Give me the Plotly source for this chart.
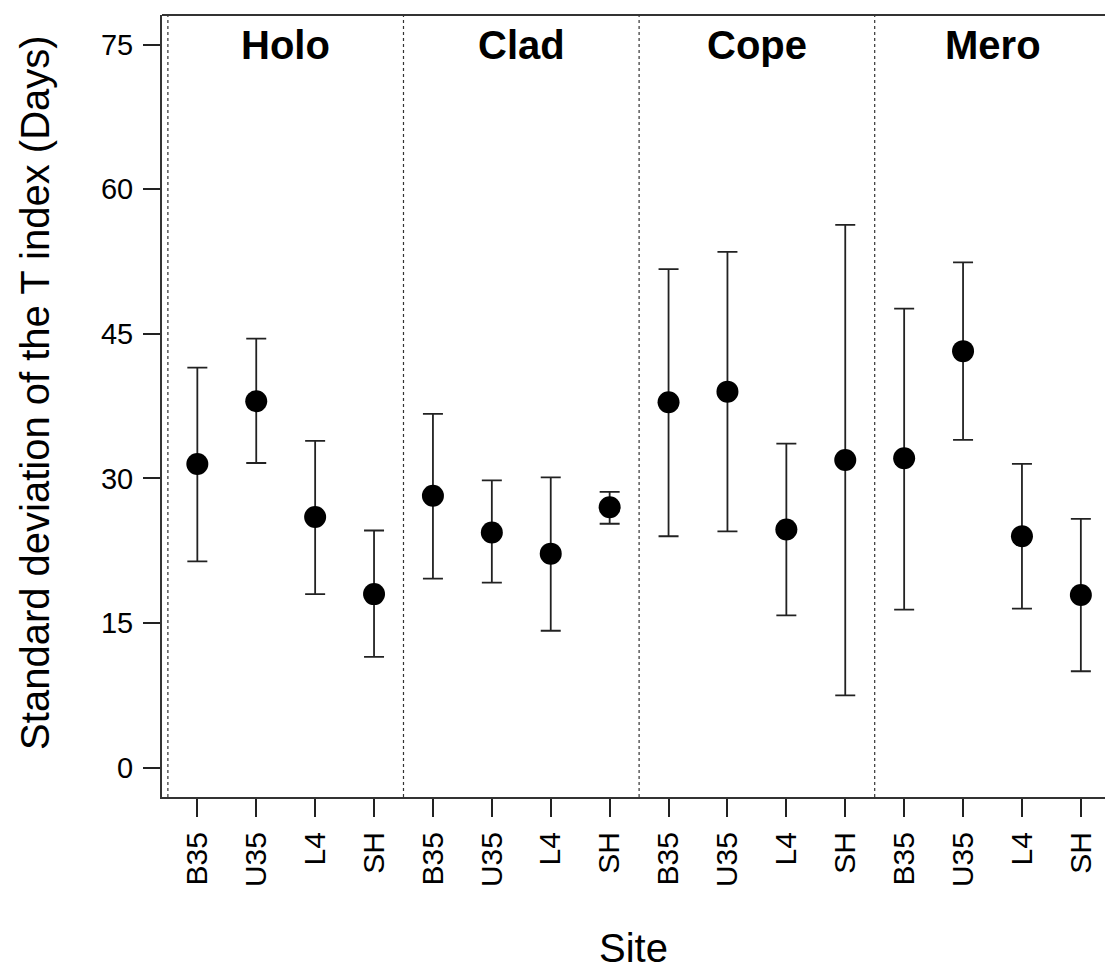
import plotly.graph_objects as go

groups = ["Holo", "Clad", "Cope", "Mero"]
sites = ["B35", "U35", "L4", "SH"]

mean_holo = [31.5, 38.0, 26.0, 18.0]
mean_clad = [28.2, 24.4, 22.2, 27.0]
mean_cope = [37.9, 39.0, 24.7, 31.9]
mean_mero = [32.1, 43.2, 24.0, 17.9]

upper_holo = [41.5, 44.5, 33.9, 24.6]
upper_clad = [36.7, 29.8, 30.1, 28.6]
upper_cope = [51.7, 53.5, 33.6, 56.3]
upper_mero = [47.6, 52.4, 31.5, 25.8]

lower_holo = [21.4, 31.6, 18.0, 11.5]
lower_clad = [19.6, 19.2, 14.2, 25.3]
lower_cope = [24.0, 24.5, 15.8, 7.5]
lower_mero = [16.4, 34.0, 16.5, 10.0]

y_ticks = [0, 15, 30, 45, 60, 75]

means = mean_holo + mean_clad + mean_cope + mean_mero
uppers = upper_holo + upper_clad + upper_cope + upper_mero
lowers = lower_holo + lower_clad + lower_cope + lower_mero
labels = sites * len(groups)
xs = list(range(1, len(means) + 1))

FONT = "Liberation Sans, Arial, sans-serif"

fig = go.Figure()
fig.add_trace(go.Scatter(
    x=xs, y=means, mode="markers",
    marker=dict(size=22, color="black"),
    error_y=dict(type="data", symmetric=False,
                 array=[u - m for u, m in zip(uppers, means)],
                 arrayminus=[m - l for m, l in zip(means, lowers)],
                 color="#222222", thickness=1.8, width=10),
    showlegend=False,
))

# dotted separators
n = len(sites)
for k in range(len(groups)):
    xv = k * n + 0.5
    fig.add_shape(type="line", xref="x", yref="paper", x0=xv, x1=xv, y0=0, y1=1,
                  line=dict(color="#333333", width=1.2, dash="dot"))
    fig.add_annotation(x=k * n + (n + 1) / 2, y=75, xref="x", yref="y",
                       text="<b>%s</b>" % groups[k], showarrow=False,
                       font=dict(family=FONT, size=40, color="black"))

# top frame line
fig.add_shape(type="line", xref="paper", yref="paper", x0=0, x1=1, y0=1, y1=1,
              line=dict(color="#333333", width=2))

fig.add_annotation(xref="paper", yref="paper", x=-0.1347, y=0.518,
                   text="Standard deviation of the T index (Days)", textangle=-90,
                   showarrow=False, xanchor="center", yanchor="middle",
                   font=dict(family=FONT, size=40, color="black"))
fig.add_annotation(xref="paper", yref="paper", x=0.5, y=-0.193,
                   text="Site", showarrow=False, xanchor="center", yanchor="middle",
                   font=dict(family=FONT, size=40, color="black"))

fig.update_layout(
    width=1105, height=969,
    margin=dict(l=162, r=0, t=15, b=172),
    plot_bgcolor="white", paper_bgcolor="white",
    font=dict(family=FONT, color="black"),
)
fig.update_xaxes(range=[0.4, 16.41], tickvals=xs, ticktext=labels, tickangle=-90,
                 showgrid=False, zeroline=False, showline=True, linecolor="#333333", linewidth=2,
                 ticks="outside", ticklen=18, tickwidth=1.5, tickcolor="#222222",
                 tickfont=dict(family=FONT, size=30, color="black"), ticklabelstandoff=3)
fig.update_yaxes(range=[-3.04, 78.06], tickvals=y_ticks, ticktext=[str(v) for v in y_ticks],
                 showgrid=False, zeroline=False, showline=True, linecolor="#333333", linewidth=2,
                 ticks="outside", ticklen=17, tickwidth=1.5, tickcolor="#222222",
                 tickfont=dict(family=FONT, size=29, color="black"), ticklabelstandoff=4)

fig.write_html("out.html")
